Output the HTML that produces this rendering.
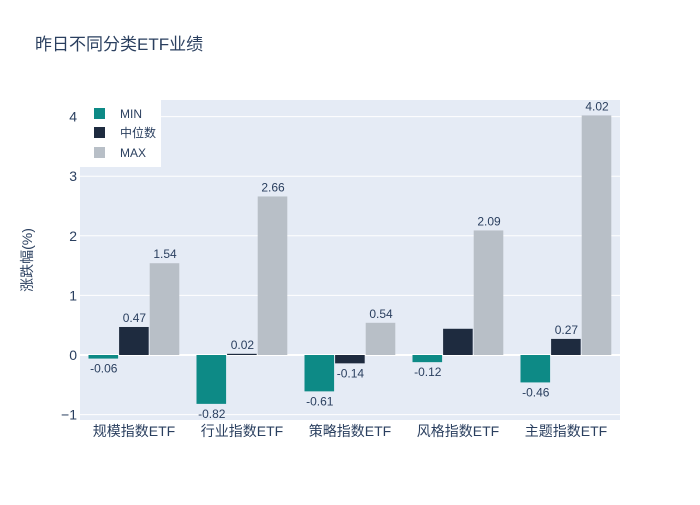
<!DOCTYPE html>
<html><head><meta charset="utf-8"><style>
body{margin:0;background:#fff;}
svg text{font-family:"Liberation Sans","Noto Sans CJK SC",sans-serif;fill:#2a3f5f;}
</style></head><body>
<svg id="c" width="700" height="500" xmlns="http://www.w3.org/2000/svg">
<rect width="700" height="500" fill="#fff"/>
<text x="35" y="50" font-size="17">昨日不同分类ETF业绩</text>
<rect x="80" y="100" width="540" height="320" fill="#e5ebf5"/>
<g id="grid"></g><g id="bars"></g><g id="labels"></g>
<text transform="translate(32,260) rotate(-90)" text-anchor="middle" font-size="14">涨跌幅(%)</text>
<g>
<rect x="80" y="100" width="81" height="67" fill="#fff"/>
<rect x="94" y="108" width="11" height="11" fill="#0d8a86"/><text x="120" y="118" font-size="12">MIN</text>
<rect x="94" y="127" width="11" height="11" fill="#1e2b3f"/><text x="120" y="137" font-size="12">中位数</text>
<rect x="94" y="147" width="11" height="11" fill="#b8bfc7"/><text x="120" y="157" font-size="12">MAX</text>
</g>
</svg>
<script>
const categories=["规模指数ETF","行业指数ETF","策略指数ETF","风格指数ETF","主题指数ETF"];
const minVals=[-0.06,-0.82,-0.61,-0.12,-0.46];
const medVals=[0.47,0.02,-0.14,0.44,0.27];
const maxVals=[1.54,2.66,0.54,2.09,4.02];
const medLabels=["0.47","0.02","-0.14","","0.27"];
const yTicks=[-1,0,1,2,3,4];
const NS="http://www.w3.org/2000/svg";
const y=v=>355-v*59.6;
const band=108, x0=80;
function mk(t,a,p){const e=document.createElementNS(NS,t);for(const k in a)e.setAttribute(k,a[k]);p.appendChild(e);return e;}
const grid=document.getElementById('grid'),bars=document.getElementById('bars'),labels=document.getElementById('labels');
yTicks.forEach(t=>{
 const l=mk('line',{x1:80,x2:620,y1:y(t),y2:y(t),stroke:'#fff','stroke-width':t===0?2:1},grid);
 
 
 const tx=mk('text',{x:77,y:y(t)+5,'text-anchor':'end','font-size':14},grid);
 tx.textContent=t<0?'−'+Math.abs(t):String(t);
 
 
});
const series=[[minVals,'#0d8a86','min'],[medVals,'#1e2b3f','median'],[maxVals,'#b8bfc7','max']];
categories.forEach((c,i)=>{
 const cx=x0+band*(i+0.5);
 const t=mk('text',{x:cx,y:436,'text-anchor':'middle','font-size':14},labels);
 t.textContent=c;
 
 
 series.forEach((s,j)=>{
  const v=s[0][i];const bw=30.6;const bx=cx-46+j*bw+0.5;
  const top=Math.min(y(v),y(0)),h=Math.abs(y(v)-y(0));
  const r=mk('rect',{x:bx,y:top,width:bw-1,height:Math.max(h,0.8),fill:s[1]},bars);
  
  
  const lab=j===1?medLabels[i]:v.toFixed(2);
  if(lab){const tl=mk('text',{x:bx+bw/2,y:v>=0?y(v)-5:y(v)+14,'text-anchor':'middle','font-size':12},labels);
  tl.textContent=lab;
  
  }
 });
});
</script>
</body></html>
